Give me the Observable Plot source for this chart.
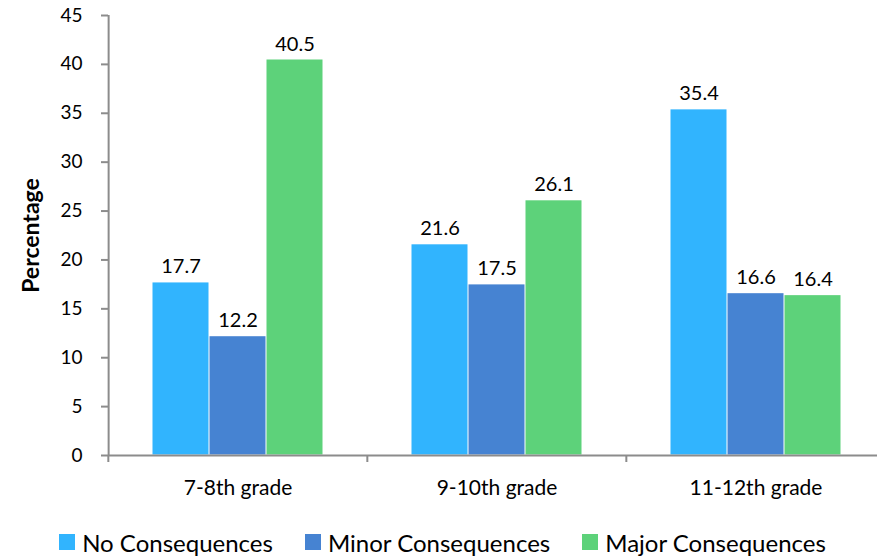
<!DOCTYPE html>
<html>
<head>
<meta charset="utf-8">
<script src="https://cdn.jsdelivr.net/npm/d3@7"></script>
<script src="https://cdn.jsdelivr.net/npm/@observablehq/plot@0.6"></script>
<style>
  html, body { margin: 0; padding: 0; background: #fff; }
  body { width: 877px; height: 557px; overflow: hidden; font-family: Lato, "Open Sans", sans-serif; }
  #chart svg { overflow: visible; }
  #legend { display: flex; justify-content: center; align-items: center; gap: 32px; height: 36px; font-size: 24px; color: #000; margin-left: 8px; margin-top: 16px; }
  .item { display: flex; align-items: center; gap: 7px; }
  .sw { width: 16px; height: 16px; display: inline-block; }
</style>
</head>
<body>
<div id="chart"></div>
<div id="legend"></div>
<script>
const groups = ["7-8th grade", "9-10th grade", "11-12th grade"];
const series = ["No Consequences", "Minor Consequences", "Major Consequences"];
const noConsequences = [17.7, 21.6, 35.4];
const minorConsequences = [12.2, 17.5, 16.6];
const majorConsequences = [40.5, 26.1, 16.4];
const yTicks = [0, 5, 10, 15, 20, 25, 30, 35, 40, 45];
const colors = ["#31b4fe", "#4683d2", "#5dd27a"];

const seriesValues = [noConsequences, minorConsequences, majorConsequences];
const data = groups.flatMap((g, i) => series.map((s, j) => ({group: g, series: s, value: seriesValues[j][i]})));

const W = 877, mL = 107, mR = -8, pOuter = 0.763;
const facetW = (W - mL - mR) / groups.length;
const step = facetW / (series.length + 2 * pOuter);
const axisGray = "#8c8c8c";

const chart = Plot.plot({
  width: W,
  height: 508,
  marginLeft: mL,
  marginRight: mR,
  marginTop: 15,
  marginBottom: 53,
  style: {fontFamily: "Lato, 'Open Sans', sans-serif", fontSize: "19px", color: "#000", background: "#fff"},
  fx: {domain: groups, padding: 0, label: null, axis: null},
  x: {domain: series, paddingInner: 0, paddingOuter: pOuter, axis: null},
  y: {domain: [0, 45], label: null},
  color: {domain: series, range: colors},
  marks: [
    Plot.barY(data, {fx: "group", x: "series", y: "value", fill: "series", inset: 0.5}),
    Plot.ruleY([0], {stroke: axisGray, strokeWidth: 2}),
    Plot.ruleX([{g: groups[0], s: series[0]}], {fx: "g", x: "s", y1: 0, y2: 45, dx: -(pOuter * step + step / 2), stroke: axisGray, strokeWidth: 2}),
    Plot.axisY({ticks: yTicks, tickSize: 7, tickPadding: 19, stroke: axisGray, strokeWidth: 2, fill: "#000", fontSize: 19,
      label: "Percentage", labelAnchor: "center", labelOffset: 86, labelArrow: "none"}),
    Plot.axisFx({anchor: "bottom", tickSize: 7, text: null, dx: -facetW / 2, stroke: axisGray, strokeWidth: 2, label: null}),
    Plot.axisFx({anchor: "bottom", tickSize: 0, tickPadding: 25, fill: "#000", fontSize: 21, label: null}),
    Plot.text(data, {fx: "group", x: "series", y: "value", text: d => d.value.toFixed(1), dy: -9, lineAnchor: "bottom", fontSize: 20, fill: "#000"})
  ]
});
document.getElementById("chart").appendChild(chart);
chart.querySelectorAll('g[aria-label="y-axis label"]').forEach(e => {
  e.setAttribute("font-weight", "bold");
  e.setAttribute("font-size", "23");
  e.querySelectorAll("text").forEach(t => { t.setAttribute("font-weight", "bold"); t.setAttribute("font-size", "23"); });
});

const legend = document.getElementById("legend");
series.forEach((s, i) => {
  const item = document.createElement("div");
  item.className = "item";
  const sw = document.createElement("span");
  sw.className = "sw";
  sw.style.background = colors[i];
  const t = document.createElement("span");
  t.textContent = s;
  item.appendChild(sw);
  item.appendChild(t);
  legend.appendChild(item);
});
</script>
</body>
</html>
